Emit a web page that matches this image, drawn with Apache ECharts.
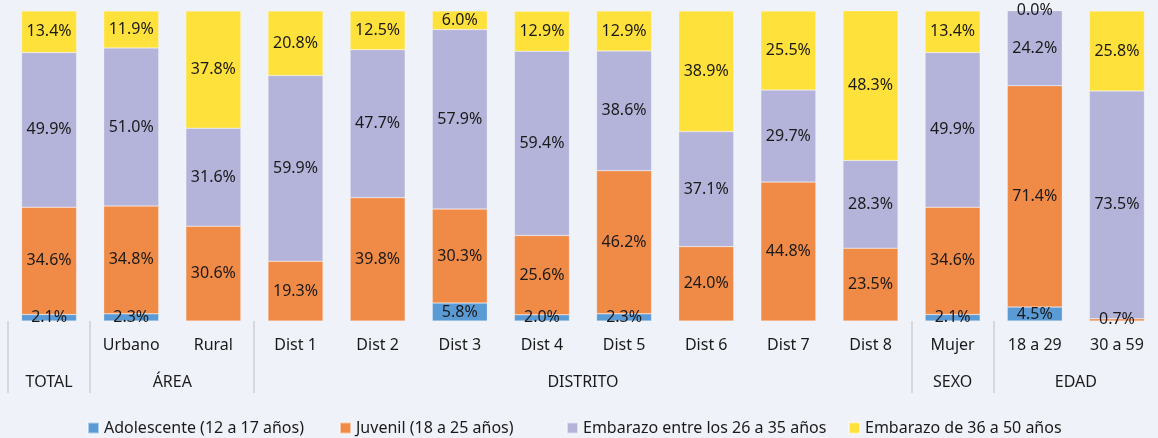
<!DOCTYPE html>
<html>
<head>
<meta charset="utf-8">
<script src="https://cdn.jsdelivr.net/npm/echarts@6/dist/echarts.min.js"></script>
<style>
html,body{margin:0;padding:0;background:#eff2f9;}
#c{width:1158px;height:438px;}
</style>
</head>
<body>
<div id="c"></div>
<script>
const categories = ['', 'Urbano', 'Rural', 'Dist 1', 'Dist 2', 'Dist 3', 'Dist 4', 'Dist 5', 'Dist 6', 'Dist 7', 'Dist 8', 'Mujer', '18 a 29', '30 a 59'];
const groups = [
  { name: 'TOTAL', from: 0, to: 0 },
  { name: 'ÁREA', from: 1, to: 2 },
  { name: 'DISTRITO', from: 3, to: 10 },
  { name: 'SEXO', from: 11, to: 11 },
  { name: 'EDAD', from: 12, to: 13 }
];
const seriesNames = ['Adolescente (12 a 17 años)', 'Juvenil (18 a 25 años)', 'Embarazo entre los 26 a 35 años', 'Embarazo de 36 a 50 años'];
const adolescente = [2.1, 2.3, null, null, null, 5.8, 2.0, 2.3, null, null, null, 2.1, 4.5, null];
const juvenil =     [34.6, 34.8, 30.6, 19.3, 39.8, 30.3, 25.6, 46.2, 24.0, 44.8, 23.5, 34.6, 71.4, 0.7];
const emb2635 =     [49.9, 51.0, 31.6, 59.9, 47.7, 57.9, 59.4, 38.6, 37.1, 29.7, 28.3, 49.9, 24.2, 73.5];
const emb3650 =     [13.4, 11.9, 37.8, 20.8, 12.5, 6.0, 12.9, 12.9, 38.9, 25.5, 48.3, 13.4, 0.0, 25.8];
const colors = ['#5b9bd5', '#f08a47', '#b4b3da', '#fee13b'];
const values = [adolescente, juvenil, emb2635, emb3650];

const FONT = 'Noto Sans';
const chart = echarts.init(document.getElementById('c'));
const series = values.map((arr, i) => ({
  name: seriesNames[i],
  type: 'bar',
  stack: 'all',
  barWidth: 55,
  barMinHeight: 1,
  clip: false,
  data: arr.map(v => (v === 0 ? { value: v, itemStyle: { color: 'transparent', borderWidth: 0 } } : v)),
  itemStyle: { color: colors[i], borderColor: 'rgba(255,255,255,0.5)', borderWidth: 0.5 },
  label: {
    show: true,
    position: 'inside',
    color: '#1a1a1a',
    fontFamily: FONT,
    fontSize: 16,
    formatter: p => (p.value == null ? '' : Number(p.value).toFixed(1) + '%')
  }
}));

const legendLefts = [82, 334, 561, 843];
chart.setOption({
  backgroundColor: '#eff2f9',
  animation: false,
  color: colors,
  grid: { left: 8, width: 1159, top: 11, bottom: 117 },
  xAxis: {
    type: 'category',
    data: categories,
    axisLine: { show: false },
    axisTick: { show: false },
    axisLabel: { color: '#1a1a1a', fontFamily: FONT, fontSize: 16, margin: 16, interval: 0 }
  },
  yAxis: { type: 'value', min: 0, max: 100, show: false },
  legend: seriesNames.map((n, i) => ({
    data: [{ name: n, itemStyle: { color: colors[i] } }],
    left: legendLefts[i],
    top: 415,
    itemWidth: 11,
    itemHeight: 11,
    itemGap: 4,
    icon: 'rect',
    textStyle: { color: '#1a1a1a', fontFamily: FONT, fontSize: 16 },
    selectedMode: false
  })),
  series: series
});

function drawGroups() {
  const half = (chart.convertToPixel({ xAxisIndex: 0 }, 1) - chart.convertToPixel({ xAxisIndex: 0 }, 0)) / 2;
  const yBottom = chart.convertToPixel({ yAxisIndex: 0 }, 0);
  const elems = [];
  const bounds = new Set();
  groups.forEach(g => {
    const x0 = chart.convertToPixel({ xAxisIndex: 0 }, g.from) - half;
    const x1 = chart.convertToPixel({ xAxisIndex: 0 }, g.to) + half;
    bounds.add(Math.round(x0));
    elems.push({
      type: 'text',
      style: { text: g.name, x: (x0 + x1) / 2, y: yBottom + 61, textAlign: 'center', textVerticalAlign: 'middle',
        fill: '#1a1a1a', font: '16px "' + FONT + '"' }
    });
  });
  bounds.forEach(x => {
    elems.push({
      type: 'line',
      shape: { x1: x, y1: yBottom, x2: x, y2: yBottom + 72 },
      style: { stroke: '#d6d8dd', lineWidth: 2 }
    });
  });
  chart.setOption({ graphic: elems });
}
drawGroups();
</script>
</body>
</html>
